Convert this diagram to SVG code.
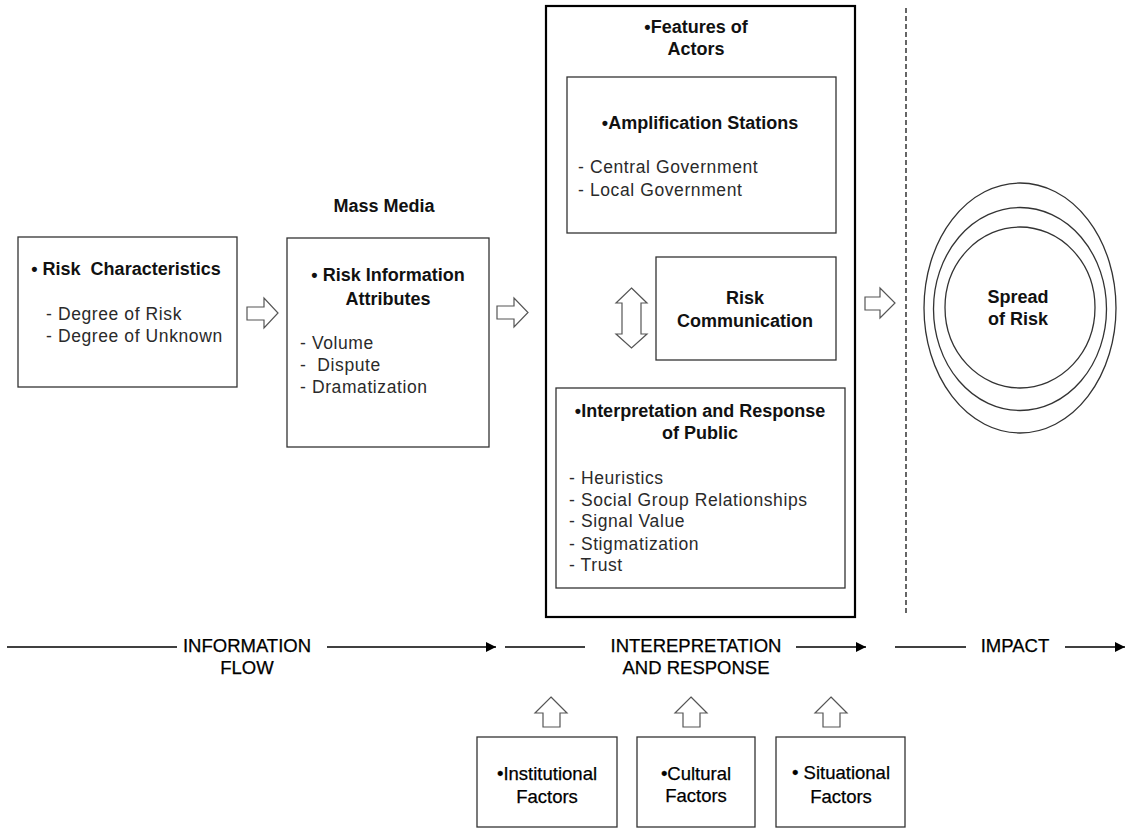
<svg xmlns="http://www.w3.org/2000/svg" width="1128" height="829" viewBox="0 0 1128 829">
<defs>
<marker id="ah" viewBox="0 0 10 10" refX="10" refY="5" markerWidth="10" markerHeight="10" markerUnits="userSpaceOnUse" orient="auto"><path d="M0,0 L10,5 L0,10 z" fill="#000"/></marker>
<style>
.box{fill:#fff;stroke:#333;stroke-width:1.3}
.big{fill:none;stroke:#000;stroke-width:2.2}
.blk{fill:#fff;stroke:#555;stroke-width:1.2;stroke-linejoin:miter}
.t{font-family:"Liberation Sans","Noto Sans",sans-serif;font-size:18px;font-weight:bold;fill:#111;text-anchor:middle}
.i{font-family:"Liberation Sans","Noto Sans",sans-serif;font-size:17.5px;fill:#2a2a2a;letter-spacing:0.6px}
.f{font-family:"Liberation Sans","Noto Sans",sans-serif;font-size:18.5px;fill:#000;text-anchor:middle;stroke:#000;stroke-width:0.25}
.flow{stroke:#000;stroke-width:1.3;fill:none}
.ell{fill:none;stroke:#333;stroke-width:1.3}
</style>
</defs>
<rect width="1128" height="829" fill="#fff"/>

<g id="risk-characteristics">
<rect class="box" x="18" y="237" width="219" height="150"/>
<text class="t" x="126" y="275" xml:space="preserve">• Risk  Characteristics</text>
<text class="i" x="46" y="320">- Degree of Risk</text>
<text class="i" x="46" y="342">- Degree of Unknown</text>
</g>

<g id="mass-media">
<text class="t" x="384" y="212">Mass Media</text>
<rect class="box" x="287" y="238" width="202" height="209"/>
<text class="t" x="388" y="281">• Risk Information</text>
<text class="t" x="388" y="305">Attributes</text>
<text class="i" x="300" y="349">- Volume</text>
<text class="i" x="300" y="371" xml:space="preserve">-  Dispute</text>
<text class="i" x="300" y="393">- Dramatization</text>
</g>

<g id="features-of-actors">
<rect class="big" x="546" y="6" width="309" height="611"/>
<text class="t" x="696" y="33">•Features of</text>
<text class="t" x="696" y="55">Actors</text>
</g>

<g id="amplification-stations">
<rect class="box" x="567" y="77" width="269" height="156"/>
<text class="t" x="700" y="129">•Amplification Stations</text>
<text class="i" x="578" y="173">- Central Government</text>
<text class="i" x="578" y="196">- Local Government</text>
</g>

<g id="risk-communication">
<rect class="box" x="656" y="257" width="180" height="103"/>
<text class="t" x="745" y="304">Risk</text>
<text class="t" x="745" y="327">Communication</text>
</g>

<g id="interpretation-public">
<rect class="box" x="556" y="388" width="289" height="200"/>
<text class="t" x="700" y="417">•Interpretation and Response</text>
<text class="t" x="700" y="439">of Public</text>
<text class="i" x="569" y="484">- Heuristics</text>
<text class="i" x="569" y="506">- Social Group Relationships</text>
<text class="i" x="569" y="527">- Signal Value</text>
<text class="i" x="569" y="550">- Stigmatization</text>
<text class="i" x="569" y="571">- Trust</text>
</g>

<g id="spread-of-risk">
<ellipse class="ell" cx="1020" cy="308" rx="96" ry="125"/>
<ellipse class="ell" cx="1020" cy="309" rx="86.5" ry="101.5"/>
<ellipse class="ell" cx="1020" cy="307.5" rx="75" ry="80.5"/>
<text class="t" x="1018" y="303">Spread</text>
<text class="t" x="1018" y="325">of Risk</text>
</g>

<g id="institutional-factors">
<rect class="box" x="477" y="737" width="140" height="90"/>
<text class="f" x="547" y="780">•Institutional</text>
<text class="f" x="547" y="803">Factors</text>
</g>
<g id="cultural-factors">
<rect class="box" x="637" y="737" width="118" height="90"/>
<text class="f" x="696" y="780">•Cultural</text>
<text class="f" x="696" y="802">Factors</text>
</g>
<g id="situational-factors">
<rect class="box" x="776" y="737" width="129" height="90"/>
<text class="f" x="841" y="779">• Situational</text>
<text class="f" x="841" y="803">Factors</text>
</g>

<g id="flow-labels">
<text class="f" x="247" y="652">INFORMATION</text>
<text class="f" x="247" y="674">FLOW</text>
<text class="f" x="696" y="652">INTEREPRETATION</text>
<text class="f" x="696" y="674">AND RESPONSE</text>
<text class="f" x="1015" y="652">IMPACT</text>
</g>

<g id="connectors">
<polygon class="blk" points="247,307 264,307 264,298 278,313 264,328 264,320 247,320"/>
<polygon class="blk" points="497,306 514,306 514,298 528,312.5 514,327 514,319 497,319"/>
<polygon class="blk" points="865,297 880,297 880,288 895,303 880,318 880,310 865,310"/>
<polygon class="blk" points="631.5,288 647,303 641,303 641,334 647,334 631.5,348 616,334 622,334 622,303 616,303"/>
<polygon class="blk" points="551,697 567,713 560,713 560,727 543,727 543,713 535,713"/>
<polygon class="blk" points="691,697 707,713 700,713 700,727 683,727 683,713 675,713"/>
<polygon class="blk" points="831,697 847,713 840,713 840,727 823,727 823,713 815,713"/>
<line x1="906" y1="8" x2="906" y2="614" stroke="#000" stroke-width="1.2" stroke-dasharray="5,3"/>
<line class="flow" x1="7" y1="647" x2="177" y2="647"/>
<line class="flow" x1="327" y1="647" x2="496" y2="647" marker-end="url(#ah)"/>
<line class="flow" x1="505" y1="647" x2="585" y2="647"/>
<line class="flow" x1="796" y1="647" x2="866" y2="647" marker-end="url(#ah)"/>
<line class="flow" x1="895" y1="647" x2="966" y2="647"/>
<line class="flow" x1="1065" y1="647" x2="1125" y2="647" marker-end="url(#ah)"/>
</g>
</svg>
